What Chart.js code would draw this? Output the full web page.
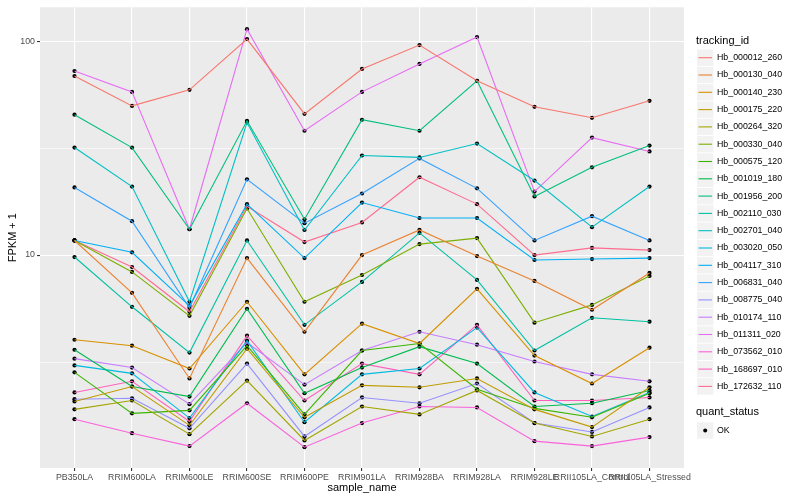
<!DOCTYPE html>
<html>
<head>
<meta charset="utf-8">
<script src="https://cdn.jsdelivr.net/npm/chart.js@4.4.0/dist/chart.umd.min.js"></script>
<style>
  html, body { margin: 0; padding: 0; background: #fff; }
  #wrap { width: 800px; height: 500px; }
</style>
</head>
<body>
<div id="wrap"><canvas id="chart" width="800" height="500"></canvas></div>
<script>
// Amostras (eixo x)
const sampleNames = [
    'PB350LA', 'RRIM600LA', 'RRIM600LE', 'RRIM600SE', 'RRIM600PE', 'RRIM901LA',
    'RRIM928BA', 'RRIM928LA', 'RRIM928LE', 'RRII105LA_Control', 'RRII105LA_Stressed'
];

// Genes (legenda)
const trackingIds = [
    'Hb_000012_260', 'Hb_000130_040', 'Hb_000140_230', 'Hb_000175_220', 'Hb_000264_320',
    'Hb_000330_040', 'Hb_000575_120', 'Hb_001019_180', 'Hb_001956_200', 'Hb_002110_030',
    'Hb_002701_040', 'Hb_003020_050', 'Hb_004117_310', 'Hb_006831_040', 'Hb_008775_040',
    'Hb_010174_110', 'Hb_011311_020', 'Hb_073562_010', 'Hb_168697_010', 'Hb_172632_110'
];

const lineColors = [
    '#F8766D', '#EA8331', '#D89000', '#C09B00', '#A3A500',
    '#7CAE00', '#39B600', '#00BB4E', '#00BF7D', '#00C1A3',
    '#00BFC4', '#00BAE0', '#00B0F6', '#35A2FF', '#9590FF',
    '#C77CFF', '#E76BF3', '#FA62DB', '#FF62BC', '#FF6C91'
];

// FPKM + 1 por gene, na ordem das amostras
const hb000012_260 = [68.7, 49.8, 59.2, 102.2, 45.7, 74.1, 95.8, 65.2, 49.3, 43.8, 52.6];
const hb000130_040 = [11.7, 6.66, 2.65, 9.68, 4.38, 10.0, 13.1, 9.89, 7.57, 5.55, 8.25];
const hb000140_230 = [4.02, 3.77, 2.95, 6.05, 2.77, 4.78, 3.86, 6.95, 3.39, 2.51, 3.69];
const hb000175_220 = [2.07, 2.43, 1.60, 3.65, 1.745, 2.46, 2.41, 2.65, 1.90, 1.57, 2.41];
const hb000264_320 = [1.90, 2.09, 1.455, 2.59, 1.36, 1.96, 1.80, 2.33, 1.64, 1.42, 1.71];
const hb000330_040 = [11.7, 8.34, 5.20, 16.5, 6.05, 8.07, 11.25, 12.0, 4.83, 5.85, 7.99];
const hb000575_120 = [2.83, 1.82, 1.88, 3.77, 1.80, 3.58, 3.86, 2.36, 1.92, 1.745, 2.26];
const hb001019_180 = [3.61, 2.43, 2.18, 5.61, 2.26, 2.98, 3.73, 3.11, 1.96, 2.03, 2.33];
const hb001956_200 = [45.3, 31.8, 13.2, 42.4, 14.7, 42.9, 38.1, 65.2, 18.8, 25.7, 32.5];
const hb002110_030 = [9.79, 5.73, 3.50, 11.7, 4.72, 7.49, 12.7, 7.65, 3.58, 5.09, 4.88];
const hb002701_040 = [31.8, 20.9, 6.05, 41.6, 13.1, 29.2, 28.6, 33.2, 22.3, 13.5, 20.9];
const hb003020_050 = [3.05, 2.80, 1.73, 3.98, 1.655, 2.77, 2.95, 4.58, 2.28, 1.76, 2.28];
const hb004117_310 = [11.7, 10.3, 5.79, 17.3, 9.68, 17.6, 14.9, 14.9, 9.48, 9.58, 9.68];
const hb006831_040 = [20.7, 14.4, 5.67, 22.6, 14.1, 19.4, 28.3, 20.5, 11.7, 15.2, 11.7];
const hb008775_040 = [2.12, 2.14, 1.55, 3.11, 1.42, 2.16, 2.03, 2.51, 1.64, 1.49, 1.94];
const hb010174_110 = [3.28, 2.98, 2.01, 3.90, 2.48, 3.58, 4.38, 3.81, 3.18, 2.77, 2.57];
const hb011311_020 = [72.5, 57.9, 13.2, 113.7, 38.1, 57.9, 78.2, 104.4, 19.8, 35.4, 30.5];
const hb073562_010 = [1.71, 1.47, 1.28, 2.03, 1.265, 1.64, 1.96, 1.94, 1.35, 1.28, 1.41];
const hb168697_010 = [2.28, 2.57, 1.67, 4.20, 2.09, 3.11, 2.77, 4.72, 2.09, 2.09, 2.16];
const hb172632_110 = [11.7, 8.79, 5.43, 16.9, 11.5, 14.2, 23.1, 17.3, 10.0, 10.8, 10.55];

const seriesValues = [
    hb000012_260, hb000130_040, hb000140_230, hb000175_220, hb000264_320,
    hb000330_040, hb000575_120, hb001019_180, hb001956_200, hb002110_030,
    hb002701_040, hb003020_050, hb004117_310, hb006831_040, hb008775_040,
    hb010174_110, hb011311_020, hb073562_010, hb168697_010, hb172632_110
];

// Quebras do eixo y (log10): linhas menores sem rótulo
const yBreaks = [3.1623, 10, 31.623, 100];
const yLabels = ['', '10', '', '100'];

const FONT = '"Liberation Sans", Arial, Helvetica, sans-serif';
Chart.defaults.font.family = FONT;

// Fundo cinza do painel
const panelPlugin = {
    id: 'panel',
    beforeDraw(chart) {
        const { ctx, chartArea: a } = chart;
        ctx.save();
        ctx.fillStyle = '#EBEBEB';
        ctx.fillRect(a.left, a.top, a.right - a.left, a.bottom - a.top);
        ctx.restore();
    }
};

// Legenda no estilo ggplot
const legendPlugin = {
    id: 'ggLegend',
    afterDraw(chart) {
        const ctx = chart.ctx;
        ctx.save();
        ctx.textBaseline = 'middle';
        ctx.fillStyle = '#000';
        ctx.font = '11px ' + FONT;
        ctx.fillText('tracking_id', 696, 41);

        ctx.font = '8.8px ' + FONT;
        trackingIds.forEach((id, i) => {
            const cy = 57.7 + i * 17.3;
            ctx.fillStyle = '#F2F2F2';
            ctx.fillRect(697, cy - 8.2, 16.4, 16.4);
            ctx.strokeStyle = lineColors[i];
            ctx.lineWidth = 1.1;
            ctx.beginPath();
            ctx.moveTo(698.5, cy);
            ctx.lineTo(712, cy);
            ctx.stroke();
            ctx.fillStyle = '#000';
            ctx.fillText(id, 717, cy);
        });

        ctx.font = '11px ' + FONT;
        ctx.fillText('quant_status', 696, 412);
        const cy = 430.5;
        ctx.fillStyle = '#F2F2F2';
        ctx.fillRect(697, cy - 8.2, 16.4, 16.4);
        ctx.fillStyle = '#000';
        ctx.beginPath();
        ctx.arc(705.2, cy, 2, 0, Math.PI * 2);
        ctx.fill();
        ctx.font = '8.8px ' + FONT;
        ctx.fillText('OK', 717, cy);
        ctx.restore();
    }
};

const lineDatasets = seriesValues.map((values, i) => ({
    label: trackingIds[i],
    data: values.map((v, j) => ({ x: j, y: v })),
    borderColor: lineColors[i],
    backgroundColor: lineColors[i],
    borderWidth: 1.1,
    pointRadius: 0,
    tension: 0
}));

// Pontos pretos por cima de todas as linhas
const pointDataset = {
    label: 'OK',
    data: seriesValues.flatMap(values => values.map((v, j) => ({ x: j, y: v }))),
    showLine: false,
    pointRadius: 2.1,
    pointStyle: 'circle',
    pointBackgroundColor: '#000',
    pointBorderWidth: 0
};

new Chart(document.getElementById('chart'), {
    type: 'line',
    data: { datasets: [...lineDatasets, pointDataset] },
    options: {
        responsive: false,
        animation: false,
        layout: { padding: { top: 5, right: 116, left: 0, bottom: 0 } },
        plugins: {
            legend: { display: false },
            tooltip: { enabled: false }
        },
        scales: {
            x: {
                type: 'linear',
                min: -0.6,
                max: 10.6,
                afterBuildTicks: s => { s.ticks = sampleNames.map((n, j) => ({ value: j })); },
                afterFit: s => { s.height = 32; },
                border: { display: false },
                grid: {
                    color: '#FFFFFF',
                    lineWidth: 1.1,
                    tickColor: '#333333',
                    tickLength: 3
                },
                ticks: {
                    autoSkip: false,
                    maxRotation: 0,
                    minRotation: 0,
                    padding: 1,
                    color: '#4D4D4D',
                    font: { size: 8.8 },
                    callback: v => sampleNames[v]
                },
                title: {
                    display: true,
                    text: 'sample_name',
                    color: '#000',
                    font: { size: 11 },
                    padding: { top: 0, bottom: 5 }
                }
            },
            y: {
                type: 'logarithmic',
                min: 1.011,
                max: 143.9,
                afterBuildTicks: s => { s.ticks = yBreaks.map(v => ({ value: v })); },
                afterFit: s => { s.width = 40; },
                border: { display: false },
                grid: {
                    color: '#FFFFFF',
                    lineWidth: c => (yLabels[c.index] ? 1.1 : 0.55),
                    tickColor: c => (yLabels[c.index] ? '#333333' : 'rgba(0,0,0,0)'),
                    tickLength: 3
                },
                ticks: {
                    padding: 2,
                    color: '#4D4D4D',
                    font: { size: 8.8 },
                    callback: (v, i) => yLabels[i]
                },
                title: {
                    display: true,
                    text: 'FPKM + 1',
                    color: '#000',
                    font: { size: 11 },
                    padding: { top: 6, bottom: 0 }
                }
            }
        }
    },
    plugins: [panelPlugin, legendPlugin]
});
</script>
</body>
</html>
